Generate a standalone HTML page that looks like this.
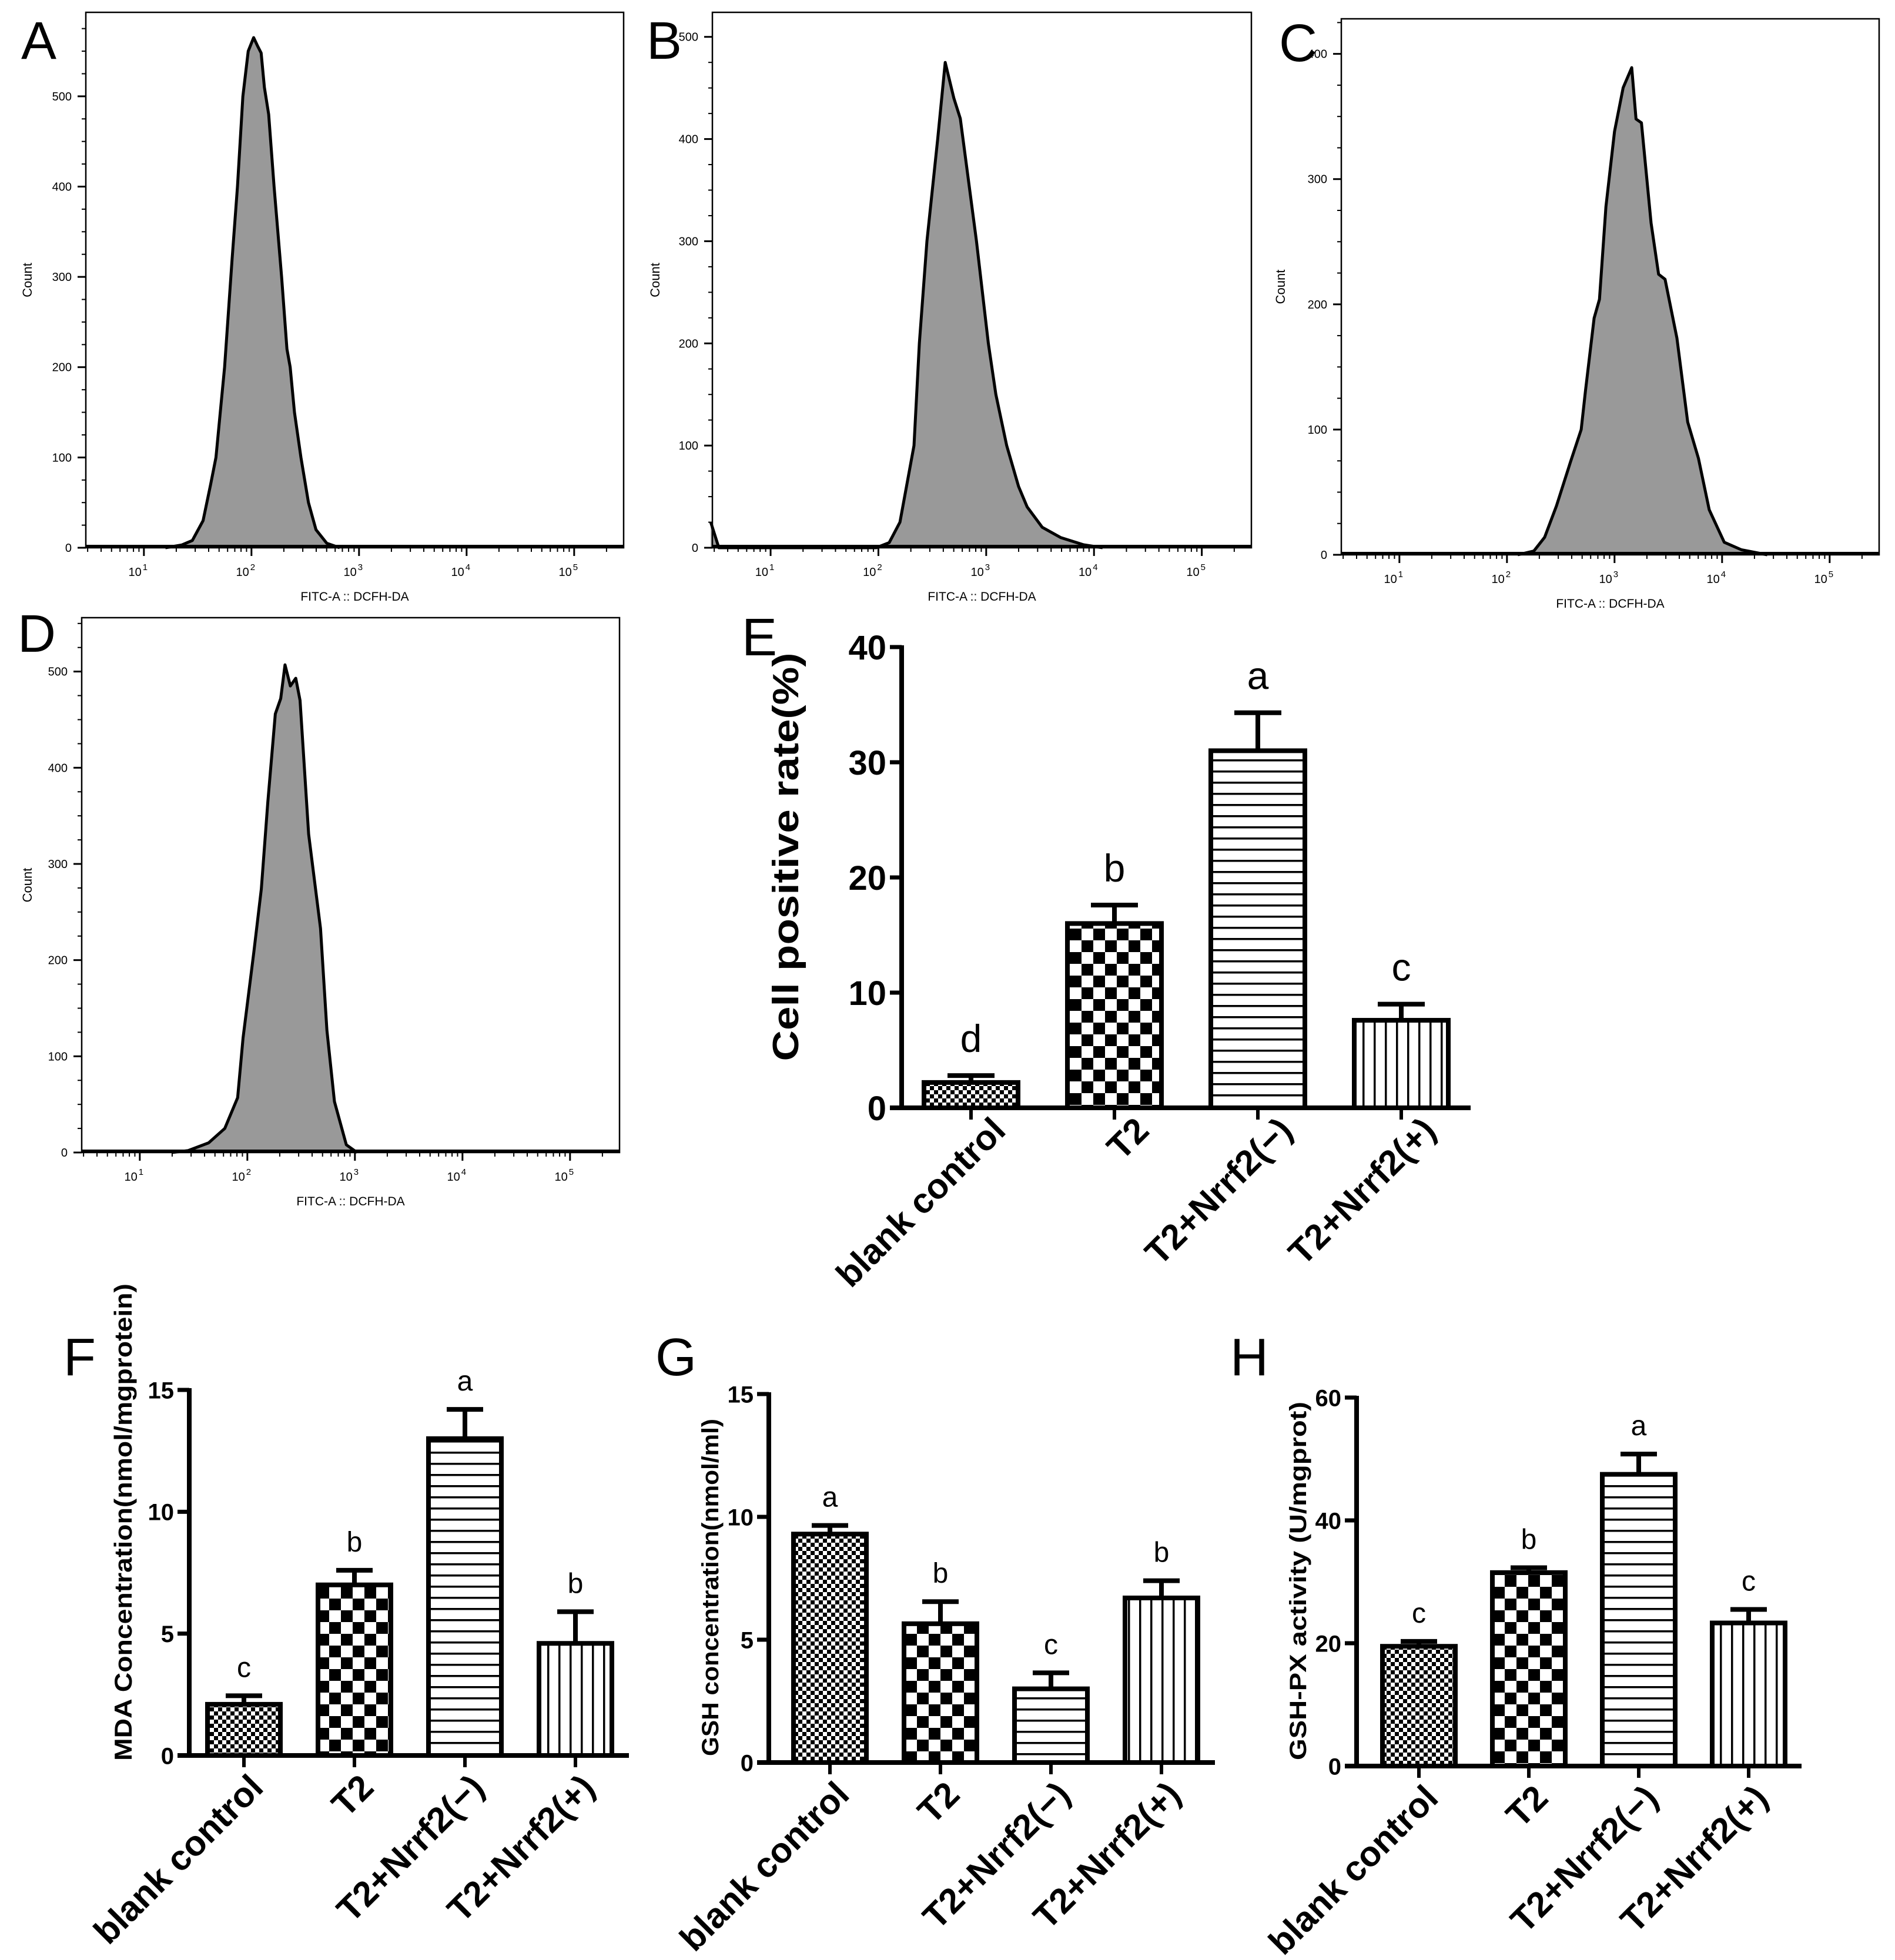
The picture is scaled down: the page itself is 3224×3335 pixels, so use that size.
<!DOCTYPE html>
<html><head><meta charset="utf-8"><title>Flow cytometry and oxidative stress panels</title>
<style>
html,body{margin:0;padding:0;background:#fff;}
svg{display:block;}
text{font-family:"Liberation Sans",Arial,sans-serif;}
</style></head>
<body>
<svg id="fig" xmlns="http://www.w3.org/2000/svg" width="3224" height="3335" viewBox="0 0 3224 3335">
<defs>
<pattern id="pat-fine" patternUnits="userSpaceOnUse" width="14" height="14"><rect width="14" height="14" fill="#fff"/><rect x="0" y="0" width="7" height="7" fill="#000"/><rect x="7" y="7" width="7" height="7" fill="#000"/></pattern>
<pattern id="pat-check" patternUnits="userSpaceOnUse" width="40" height="40"><rect width="40" height="40" fill="#fff"/><rect x="0" y="0" width="20" height="20" fill="#000"/><rect x="20" y="20" width="20" height="20" fill="#000"/></pattern>
<pattern id="pat-h" patternUnits="userSpaceOnUse" width="10" height="19"><rect width="10" height="19" fill="#fff"/><rect x="0" y="0" width="10" height="3.5" fill="#000"/></pattern>
<pattern id="pat-v" patternUnits="userSpaceOnUse" width="19" height="10"><rect width="19" height="10" fill="#fff"/><rect x="0" y="0" width="3.5" height="10" fill="#000"/></pattern>
</defs>
<rect x="0" y="0" width="3224" height="3335" fill="#fff"/>
</svg>
<script>
// ---------- Histogram data (log10 FITC intensity, count) ----------
const histA_log = [1.2,1.35,1.45,1.55,1.62,1.67,1.75,1.82,1.87,1.92,1.97,2.02,2.06,2.09,2.12,2.16,2.21,2.28,2.33,2.36,2.4,2.46,2.53,2.6,2.7,2.82];
const histA_count = [0,3,8,30,70,100,200,320,400,500,550,565,555,548,510,480,400,300,220,200,150,100,50,20,5,0];
const histB_log = [0.445,0.52,1.98,2.1,2.2,2.33,2.38,2.45,2.55,2.62,2.7,2.76,2.91,3.02,3.09,3.19,3.3,3.38,3.52,3.69,3.9,4.08];
const histB_count = [25,0,0,5,25,100,200,300,400,475,440,420,300,200,150,100,60,40,20,10,3,0];
const histC_log = [2.1,2.25,2.35,2.46,2.59,2.69,2.73,2.81,2.86,2.92,3.0,3.08,3.16,3.2,3.25,3.34,3.41,3.47,3.58,3.68,3.78,3.88,4.02,4.18,4.42];
const histC_count = [0,3,14,39,74,100,131,189,204,278,338,373,389,348,345,265,224,220,173,106,77,36,10,4,0];
const histD_log = [1.3,1.45,1.64,1.79,1.91,1.96,2.06,2.13,2.19,2.26,2.31,2.35,2.4,2.45,2.49,2.57,2.68,2.74,2.81,2.92,3.02];
const histD_count = [0,2,10,25,57,119,208,274,364,456,472,507,485,493,470,331,233,127,53,8,0];
const histA_yticks = [0,100,200,300,400,500];
const histB_yticks = [0,100,200,300,400,500];
const histC_yticks = [0,100,200,300,400];
const histD_yticks = [0,100,200,300,400,500];
const decadeTicks = [1,2,3,4,5];

// ---------- Bar chart data ----------
const groups = ["blank control","T2","T2+Nrrf2(\u2212)","T2+Nrrf2(+)"];
const posRate = [2.2,16.0,31.0,7.6];
const posRateErr = [0.6,1.6,3.3,1.4];
const posRateLetters = ["d","b","a","c"];
const posRateTicks = [0,10,20,30,40];
const mda = [2.1,7.0,13.0,4.6];
const mdaErr = [0.35,0.6,1.2,1.3];
const mdaLetters = ["c","b","a","b"];
const mdaTicks = [0,5,10,15];
const gsh = [9.3,5.65,3.0,6.7];
const gshErr = [0.35,0.9,0.65,0.7];
const gshLetters = ["a","b","c","b"];
const gshTicks = [0,5,10,15];
const gpx = [19.5,31.5,47.5,23.3];
const gpxErr = [0.8,0.8,3.3,2.2];
const gpxLetters = ["c","b","a","c"];
const gpxTicks = [0,20,40,60];

const NS = "http://www.w3.org/2000/svg";
const svg = document.getElementById("fig");
function mk(tag, attrs, parent){
  const e = document.createElementNS(NS, tag);
  for (const k in attrs) e.setAttribute(k, attrs[k]);
  (parent||svg).appendChild(e);
  return e;
}

// ---------- Panel letters ----------
const panelLetters = [["A",36,100],["B",1100,100],["C",2176,104],["D",30,1109],["E",1262,1115],["F",108,2340],["G",1115,2340],["H",2093,2340]];
panelLetters.forEach(p=>{
  const t = mk("text",{x:p[1],y:p[2],"font-size":90,fill:"#000"});
  
  
  t.textContent = p[0];
});

// ---------- Histograms ----------
function drawHist(id, cfg, logs, counts, yticks){
  const g = mk("g",{});
  
  
  const lmin = 0.46, lmax = 5.46;
  const xs = l => cfg.left + (l - lmin)/(lmax - lmin)*(cfg.right - cfg.left);
  const ys = c => cfg.bottom - c/cfg.cmax*(cfg.bottom - cfg.top);
  let d = "M" + xs(logs[0]) + "," + ys(0);
  for (let i=0;i<logs.length;i++) d += " L" + xs(logs[i]).toFixed(1) + "," + ys(counts[i]).toFixed(1);
  d += " L" + xs(logs[logs.length-1]) + "," + ys(0) + " Z";
  const area = mk("path",{d:d,fill:"#999",stroke:"none"},g);
  
  
  let d2 = "M" + xs(logs[0]).toFixed(1) + "," + ys(counts[0]).toFixed(1);
  for (let i=1;i<logs.length;i++) d2 += " L" + xs(logs[i]).toFixed(1) + "," + ys(counts[i]).toFixed(1);
  const line = mk("path",{d:d2,fill:"none",stroke:"#000","stroke-width":5,"stroke-linejoin":"round"},g);
  
  
  const base = mk("line",{x1:cfg.left,x2:cfg.right,y1:cfg.bottom-2,y2:cfg.bottom-2,stroke:"#000","stroke-width":6},g);
  
  
  const frame = mk("rect",{x:cfg.left,y:cfg.top,width:cfg.right-cfg.left,height:cfg.bottom-cfg.top,fill:"none",stroke:"#000","stroke-width":2.5},g);
  
  
  for (let c=0; c<=cfg.cmax; c+=25){
    const major = (c % 100 === 0);
    const tk = mk("line",{x1:cfg.left-(major?14:7),x2:cfg.left,y1:ys(c),y2:ys(c),stroke:"#000","stroke-width":major?3:2},g);
    
    
  }
  yticks.forEach(v=>{
    const t = mk("text",{x:cfg.left-24,y:ys(v)+7,"font-size":20,"text-anchor":"end",fill:"#000"},g);
    
    
    t.textContent = v;
  });
  for (let dec=0; dec<=5; dec++){
    for (let k=1;k<=9;k++){
      const l = dec + Math.log10(k);
      if (l < lmin || l > lmax) continue;
      const major = (k===1);
      const tk = mk("line",{x1:xs(l),x2:xs(l),y1:cfg.bottom,y2:cfg.bottom+(major?14:7),stroke:"#000","stroke-width":major?3:2},g);
      
      
    }
  }
  decadeTicks.forEach(p=>{
    const t = mk("text",{x:xs(p)-10,y:cfg.bottom+48,"font-size":20,"text-anchor":"middle",fill:"#000"},g);
    
    
    t.textContent = "10";
    const s = mk("tspan",{dx:2,dy:-10,"font-size":15},t);
    s.textContent = p;
  });
  const xl = mk("text",{x:(cfg.left+cfg.right)/2,y:cfg.bottom+90,"font-size":21,"text-anchor":"middle",fill:"#000"},g);
  
  
  xl.textContent = "FITC-A :: DCFH-DA";
  const cy = (cfg.top+cfg.bottom)/2;
  const yl = mk("text",{x:cfg.countX,y:cy,"font-size":22,"text-anchor":"middle",fill:"#000",transform:"rotate(-90 "+cfg.countX+" "+cy+")"},g);
  
  
  yl.textContent = "Count";
}
drawHist("a",{left:146,right:1061,top:21,bottom:932,cmax:593,countX:54},histA_log,histA_count,histA_yticks);
drawHist("b",{left:1212,right:2129,top:21,bottom:932,cmax:524,countX:1122},histB_log,histB_count,histB_yticks);
drawHist("c",{left:2282,right:3197,top:32,bottom:944,cmax:428,countX:2186},histC_log,histC_count,histC_yticks);
drawHist("d",{left:139,right:1054,top:1051,bottom:1961,cmax:556,countX:54},histD_log,histD_count,histD_yticks);

// ---------- Bar charts ----------
const pats = ["url(#pat-fine)","url(#pat-check)","url(#pat-h)","url(#pat-v)"];
function drawBars(id, cfg, vals, errs, letters, ticks){
  const g = mk("g",{});
  
  
  const ymax = ticks[ticks.length-1];
  const ys = v => cfg.y0 - v/ymax*(cfg.y0 - cfg.yTop);
  const xc = i => cfg.c0 + i*cfg.sp;
  vals.forEach((v,i)=>{
    const x = xc(i) - cfg.bw/2;
    const r = mk("rect",{x:x,y:ys(v),width:cfg.bw,height:cfg.y0-ys(v),fill:pats[i],stroke:"#000","stroke-width":8},g);
    
    
    const top = ys(v+errs[i]);
    const el = mk("line",{x1:xc(i),x2:xc(i),y1:ys(v),y2:top,stroke:"#000","stroke-width":8},g);
    
    
    const cap = mk("line",{x1:xc(i)-cfg.cap/2,x2:xc(i)+cfg.cap/2,y1:top,y2:top,stroke:"#000","stroke-width":8},g);
    
    
    const lt = mk("text",{x:xc(i),y:top-cfg.lgap,"font-size":cfg.lf,"text-anchor":"middle",fill:"#000"},g);
    
    
    lt.textContent = letters[i];
    const tk = mk("line",{x1:xc(i),x2:xc(i),y1:cfg.y0,y2:cfg.y0+20,stroke:"#000","stroke-width":6},g);
    
    
    const ax = xc(i)+cfg.xdx, ay = cfg.y0+cfg.xoff;
    const xl = mk("text",{x:ax,y:ay,"font-size":cfg.xf,"font-weight":"bold","text-anchor":"end",fill:"#000",transform:"rotate(-45 "+ax+" "+ay+")"},g);
    
    
    xl.textContent = groups[i];
  });
  const ya = mk("line",{x1:cfg.ax,x2:cfg.ax,y1:cfg.y0+4,y2:cfg.yTop-3,stroke:"#000","stroke-width":8},g);
  
  
  const xa = mk("line",{x1:cfg.ax-20,x2:cfg.end,y1:cfg.y0,y2:cfg.y0,stroke:"#000","stroke-width":8},g);
  
  
  ticks.forEach(t=>{
    const tk = mk("line",{x1:cfg.ax-20,x2:cfg.ax,y1:ys(t),y2:ys(t),stroke:"#000","stroke-width":7},g);
    
    
    const tl = mk("text",{x:cfg.ax-26,y:ys(t)+cfg.tf*0.36,"font-size":cfg.tf,"font-weight":"bold","text-anchor":"end",fill:"#000"},g);
    
    
    tl.textContent = t;
  });
  const tt = mk("text",{x:cfg.tx,y:cfg.ty,"font-size":cfg.ttf,"font-weight":"bold","text-anchor":"middle",fill:"#000",textLength:cfg.tlen,lengthAdjust:"spacingAndGlyphs",transform:"rotate(-90 "+cfg.tx+" "+cfg.ty+")"},g);
  
  
  tt.textContent = cfg.title;
}
drawBars("e",{ax:1534,y0:1885,yTop:1101,c0:1652,sp:244,bw:160,cap:80,end:2502,tf:58,lf:66,lgap:40,xf:60,xoff:42,xdx:62,tx:1358,ty:1458,ttf:62,tlen:695,title:"Cell positive rate(%)"},posRate,posRateErr,posRateLetters,posRateTicks);
drawBars("f",{ax:322,y0:2987,yTop:2365,c0:415,sp:188,bw:124,cap:62,end:1070,tf:40,lf:48,lgap:32,xf:60,xoff:58,xdx:36,tx:224,ty:2590,ttf:42,tlen:812,title:"MDA Concentration(nmol/mgprotein)"},mda,mdaErr,mdaLetters,mdaTicks);
drawBars("g",{ax:1308,y0:2999,yTop:2372,c0:1412,sp:188,bw:124,cap:62,end:2067,tf:40,lf:48,lgap:32,xf:60,xoff:58,xdx:36,tx:1222,ty:2701,ttf:40,tlen:574,title:"GSH concentration(nmol/ml)"},gsh,gshErr,gshLetters,gshTicks);
drawBars("h",{ax:2308,y0:3005,yTop:2378,c0:2414,sp:187,bw:124,cap:62,end:3065,tf:40,lf:48,lgap:32,xf:60,xoff:58,xdx:36,tx:2222,ty:2690,ttf:40,tlen:610,title:"GSH-PX activity (U/mgprot)"},gpx,gpxErr,gpxLetters,gpxTicks);
</script>
</body></html>
